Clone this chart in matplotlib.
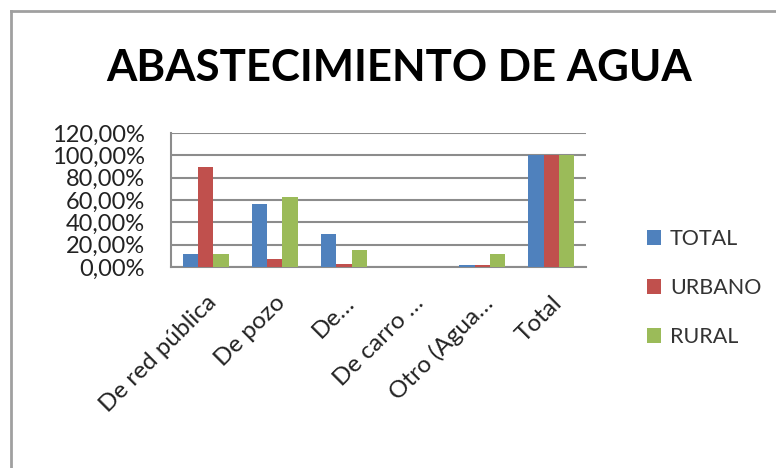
import matplotlib.pyplot as plt
import numpy as np
from matplotlib.lines import Line2D

categories = ['De red pública', 'De pozo', 'De…', 'De carro …', 'Otro (Agua…', 'Total']
series = ['TOTAL', 'URBANO', 'RURAL']
total = [11.4, 56.0, 29.3, 0.0, 2.0, 100.0]
urbano = [89.8, 7.5, 2.4, 0.0, 2.0, 100.0]
rural = [11.4, 63.0, 15.0, 0.0, 11.4, 100.0]
colors = ['#4F81BD', '#C0504D', '#9BBB59']
yticks = [0, 20, 40, 60, 80, 100, 120]

plt.rcParams['font.family'] = ['Lato', 'DejaVu Sans']

fig = plt.figure(figsize=(7.76, 4.68), dpi=100)
ax = fig.add_axes([171 / 776, 1 - 267 / 468, 415 / 776, 134 / 468])

x = np.arange(len(categories))
w = 1 / 4.5
for k, (name, vals) in enumerate(zip(series, [total, urbano, rural])):
    ax.bar(x + (k - 1) * w, vals, w, color=colors[k], label=name, zorder=3)

ax.set_xlim(-0.5, len(categories) - 0.5)
ax.set_ylim(0, 120)
ax.set_yticks(yticks)
ax.set_yticklabels(['%d,00%%' % v for v in yticks], fontsize=17, color='#222222')
ax.yaxis.grid(True, color='#8c8c8c', lw=1.5, zorder=0)
ax.set_xticks(x)
ax.set_xticklabels(categories, rotation=45, ha='right', rotation_mode='anchor',
                   fontsize=17.5, color='#222222')
ax.tick_params(axis='both', length=0)
ax.tick_params(axis='y', pad=19)
ax.tick_params(axis='x', pad=18)
for side in ['top', 'right']:
    ax.spines[side].set_visible(False)
for side in ['left', 'bottom']:
    ax.spines[side].set_color('#8c8c8c')
    ax.spines[side].set_linewidth(1.5)

fig.text(399 / 776, 1 - 68 / 468, 'ABASTECIMIENTO DE AGUA', ha='center', va='center',
         fontsize=31.5, fontweight='bold', color='black')

fig.legend(loc='center left', bbox_to_anchor=(628 / 776, 1 - 288 / 468), frameon=False,
           fontsize=15.5, handlelength=0.65, handleheight=0.65, handletextpad=0.4,
           labelspacing=1.35, labelcolor='#333333')

# chart frame: only left and top edges fall inside the image
fig.add_artist(Line2D([11 / 776, 11 / 776], [0, 1 - 11 / 468], transform=fig.transFigure,
                      color='#a0a0a0', lw=2))
fig.add_artist(Line2D([11 / 776, 1], [1 - 11 / 468, 1 - 11 / 468], transform=fig.transFigure,
                      color='#a0a0a0', lw=2))

fig.savefig('out.png', dpi=100)
